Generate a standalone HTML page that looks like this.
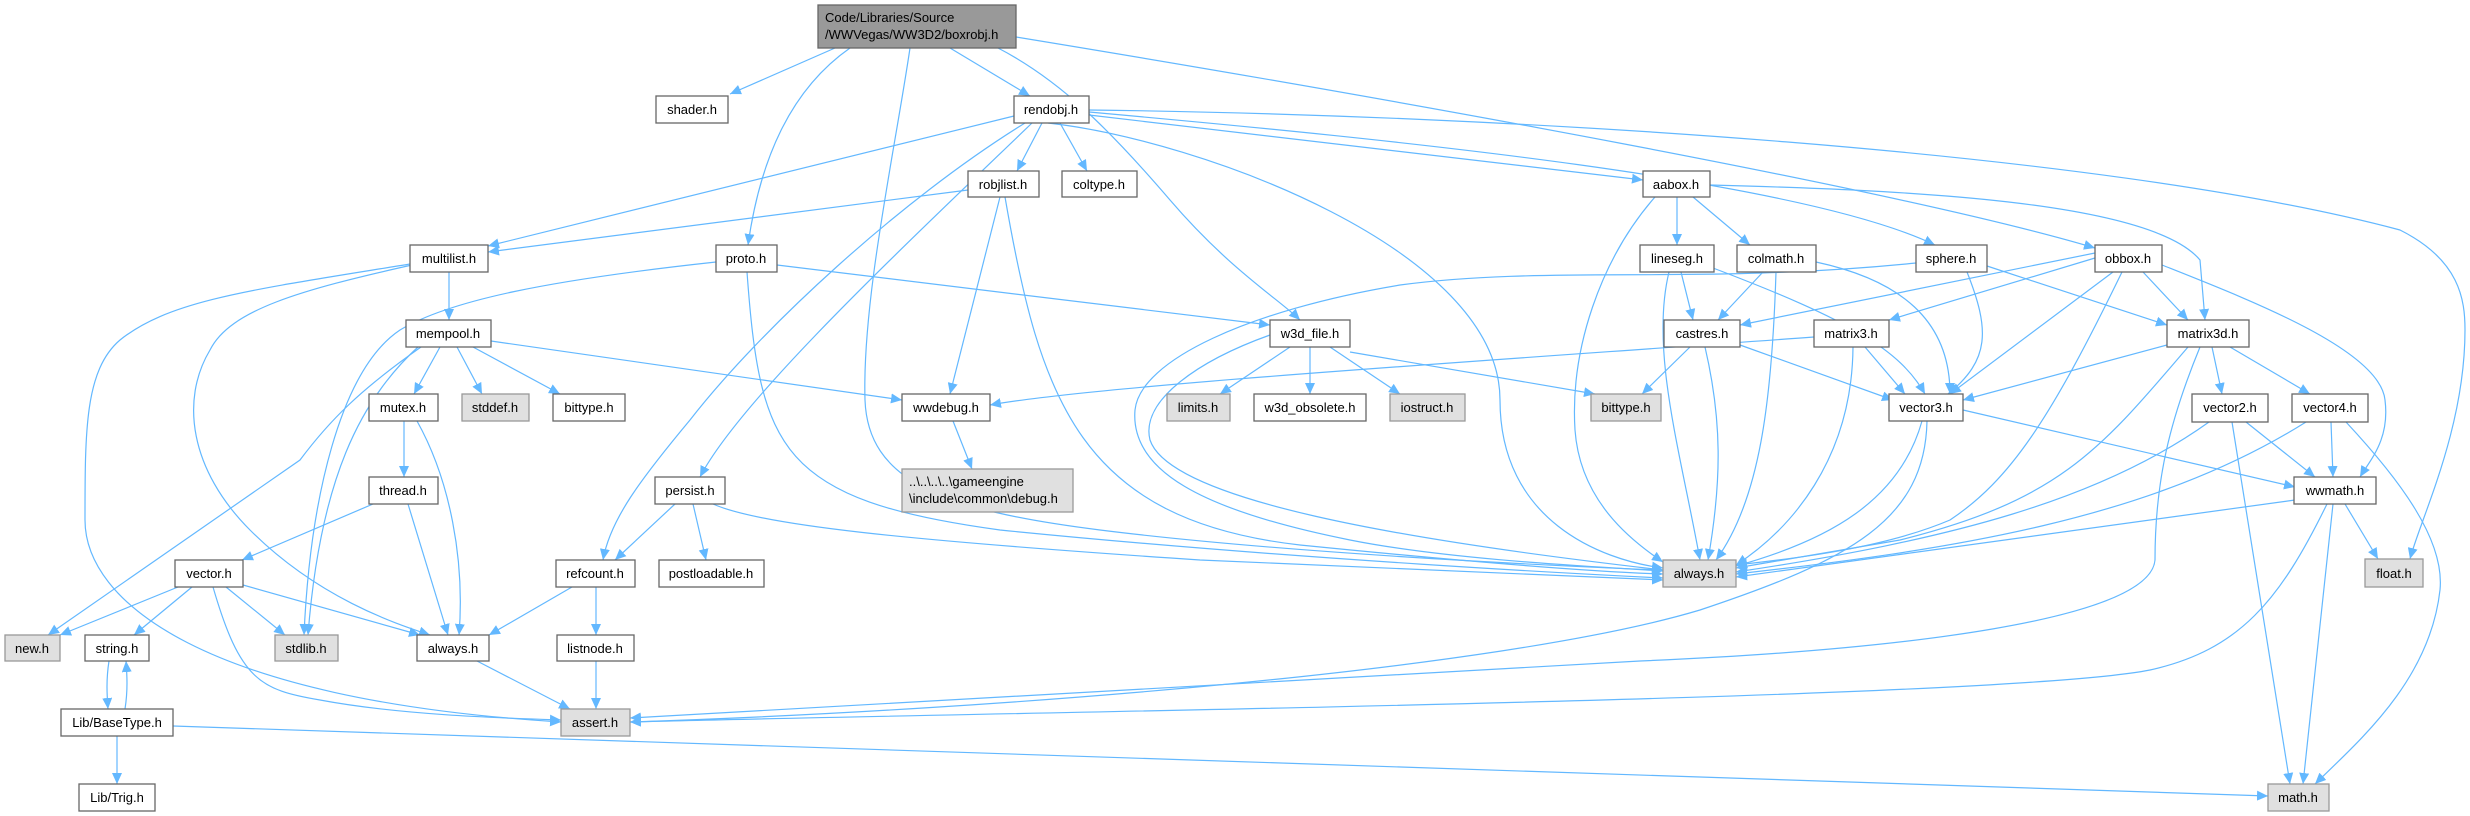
<!DOCTYPE html>
<html><head><meta charset="utf-8"><style>
html,body{margin:0;padding:0;background:#fff;}
svg{display:block;}
text{font-family:"Liberation Sans",Arial,sans-serif;font-size:13px;fill:#000;}
.n{fill:#fff;stroke:#666;stroke-width:1.3;}
.g{fill:#e0e0e0;stroke:#999;stroke-width:1.3;}
.r{fill:#999;stroke:#666;stroke-width:1.3;}
path.e{fill:none;stroke:#63b8ff;stroke-width:1.2;marker-end:url(#a);}
</style></head><body>
<svg width="2470" height="816" viewBox="0 0 2470 816" xmlns="http://www.w3.org/2000/svg">
<defs><marker id="a" markerUnits="userSpaceOnUse" markerWidth="12" markerHeight="10" refX="11" refY="5" orient="auto"><path d="M0,0 L11,5 L0,10 z" fill="#63b8ff"/></marker></defs>
<g>
<path class="e" d="M835,48 L730,94"/>
<path class="e" d="M850,48 C790,90 760,160 748,245"/>
<path class="e" d="M910,48 C895,150 862,300 865,400 C868,480 940,510 1100,530 C1300,555 1600,568 1663,570"/>
<path class="e" d="M950,48 L1030,96"/>
<path class="e" d="M998,48 C1060,80 1110,130 1170,200 C1230,270 1280,300 1300,320"/>
<path class="e" d="M1016,37 C1400,100 1900,190 2095,248"/>
<path class="e" d="M1014,116 L488,246"/>
<path class="e" d="M1025,123 C900,200 760,330 690,420 C640,480 610,520 603,560"/>
<path class="e" d="M1032,123 C900,250 740,400 700,477"/>
<path class="e" d="M1042,123 L1017,171"/>
<path class="e" d="M1060,123 L1087,171"/>
<path class="e" d="M1048,123 C1200,140 1500,250 1500,400 C1500,520 1600,560 1663,568"/>
<path class="e" d="M1089,115 L1643,180"/>
<path class="e" d="M1089,112 C1400,140 1800,180 1935,245"/>
<path class="e" d="M1089,110 C1500,115 2100,150 2400,230 C2460,260 2465,300 2465,330 C2465,430 2420,520 2410,559"/>
<path class="e" d="M968,190 L488,252"/>
<path class="e" d="M1000,197 L950,394"/>
<path class="e" d="M1005,197 C1040,400 1080,520 1300,545 C1500,565 1600,572 1663,574"/>
<path class="e" d="M449,272 L449,320"/>
<path class="e" d="M410,264 C250,290 170,300 120,340 C85,370 85,430 85,520 C85,600 200,700 561,722"/>
<path class="e" d="M412,265 C300,290 230,310 210,350 C180,400 190,470 250,530 C320,600 400,625 430,635"/>
<path class="e" d="M716,262 C550,280 450,300 400,330 C340,370 310,500 304,635"/>
<path class="e" d="M777,265 L1270,325"/>
<path class="e" d="M747,272 C760,450 780,500 1000,530 C1300,560 1600,575 1663,578"/>
<path class="e" d="M491,341 L902,400"/>
<path class="e" d="M440,347 L414,394"/>
<path class="e" d="M457,347 L482,394"/>
<path class="e" d="M473,347 L560,394"/>
<path class="e" d="M421,347 C360,390 330,420 300,460 L48,635"/>
<path class="e" d="M418,347 C360,400 320,480 308,635"/>
<path class="e" d="M404,421 L404,477"/>
<path class="e" d="M417,421 C450,480 465,560 459,635"/>
<path class="e" d="M373,504 L242,560"/>
<path class="e" d="M408,504 L448,635"/>
<path class="e" d="M178,587 L60,635"/>
<path class="e" d="M192,587 L134,635"/>
<path class="e" d="M226,587 L285,635"/>
<path class="e" d="M243,585 L420,635"/>
<path class="e" d="M213,587 C240,680 260,690 320,700 C400,715 500,718 561,720"/>
<path class="e" d="M109,661 C106,680 107,695 108,709"/>
<path class="e" d="M125,709 C128,690 127,675 126,661"/>
<path class="e" d="M117,736 L117,784"/>
<path class="e" d="M173,726 L2268,796"/>
<path class="e" d="M477,661 L570,709"/>
<path class="e" d="M572,587 L489,635"/>
<path class="e" d="M596,587 L596,635"/>
<path class="e" d="M596,661 L596,709"/>
<path class="e" d="M675,504 L615,560"/>
<path class="e" d="M693,504 L706,560"/>
<path class="e" d="M713,504 C760,525 900,540 1200,560 L1663,580"/>
<path class="e" d="M1290,347 L1220,394"/>
<path class="e" d="M1310,347 L1310,394"/>
<path class="e" d="M1330,347 L1400,394"/>
<path class="e" d="M1350,352 L1595,394"/>
<path class="e" d="M1270,335 C1200,360 1140,400 1150,440 C1170,500 1400,540 1663,570"/>
<path class="e" d="M1916,263 C1700,285 1550,265 1400,285 C1250,310 1140,360 1135,410 C1130,470 1200,510 1350,540 C1450,560 1600,567 1663,571"/>
<path class="e" d="M1677,197 L1677,245"/>
<path class="e" d="M1693,197 L1750,245"/>
<path class="e" d="M1710,185 C1900,190 2150,200 2200,260 L2205,320"/>
<path class="e" d="M1655,197 C1600,260 1570,350 1575,430 C1580,500 1630,540 1663,562"/>
<path class="e" d="M1681,272 L1693,320"/>
<path class="e" d="M1713,268 C1850,320 1900,350 1925,394"/>
<path class="e" d="M1669,272 C1650,350 1680,450 1700,560"/>
<path class="e" d="M1763,272 L1718,320"/>
<path class="e" d="M1816,262 C1900,280 1950,320 1950,394"/>
<path class="e" d="M1776,272 C1772,400 1760,500 1716,560"/>
<path class="e" d="M1967,272 C1990,330 1990,360 1948,394"/>
<path class="e" d="M1987,266 L2167,325"/>
<path class="e" d="M2095,253 L1740,325"/>
<path class="e" d="M2095,258 L1889,320"/>
<path class="e" d="M2113,272 L1950,394"/>
<path class="e" d="M2143,272 L2188,320"/>
<path class="e" d="M2122,272 C2050,420 2010,480 1950,520 C1880,550 1780,560 1736,565"/>
<path class="e" d="M2162,265 C2250,300 2380,350 2385,400 C2390,440 2370,460 2360,477"/>
<path class="e" d="M1690,347 L1642,394"/>
<path class="e" d="M1740,345 L1893,400"/>
<path class="e" d="M1705,347 C1722,420 1722,480 1708,560"/>
<path class="e" d="M1814,337 C1500,360 1100,385 990,405"/>
<path class="e" d="M1865,347 L1905,394"/>
<path class="e" d="M1853,347 C1852,460 1790,530 1736,565"/>
<path class="e" d="M2167,345 L1963,400"/>
<path class="e" d="M2212,347 L2222,394"/>
<path class="e" d="M2230,347 L2310,394"/>
<path class="e" d="M2188,347 C2100,450 2060,500 1900,540 L1736,568"/>
<path class="e" d="M2200,347 C2170,420 2155,480 2155,560 C2150,620 1900,650 1640,661 L630,718"/>
<path class="e" d="M1963,410 L2295,487"/>
<path class="e" d="M1922,421 C1900,500 1830,540 1736,566"/>
<path class="e" d="M1927,421 C1925,520 1850,560 1700,610 C1500,670 1000,710 630,722"/>
<path class="e" d="M2246,422 L2315,477"/>
<path class="e" d="M2209,422 C2100,500 1950,540 1736,572"/>
<path class="e" d="M2232,422 L2290,784"/>
<path class="e" d="M2331,422 L2333,477"/>
<path class="e" d="M2306,422 C2150,520 1950,550 1736,574"/>
<path class="e" d="M2346,422 C2400,480 2445,540 2440,590 C2430,680 2360,740 2315,784"/>
<path class="e" d="M2295,500 L1736,577"/>
<path class="e" d="M2345,504 L2378,559"/>
<path class="e" d="M2333,504 L2303,784"/>
<path class="e" d="M2327,504 C2280,600 2240,650 2150,670 C2000,700 1000,712 630,722"/>
<path class="e" d="M953,421 L972,469"/>
</g>
<g>
<rect class="r" x="818" y="5" width="198" height="43"/>
<text x="825" y="22">Code/Libraries/Source</text>
<text x="825" y="39">/WWVegas/WW3D2/boxrobj.h</text>
<rect class="n" x="656" y="96" width="72" height="27"/><text x="692" y="114" text-anchor="middle">shader.h</text>
<rect class="n" x="1014" y="96" width="75" height="27"/><text x="1051" y="114" text-anchor="middle">rendobj.h</text>
<rect class="n" x="410" y="245" width="78" height="27"/><text x="449" y="263" text-anchor="middle">multilist.h</text>
<rect class="n" x="716" y="245" width="61" height="27"/><text x="746" y="263" text-anchor="middle">proto.h</text>
<rect class="n" x="968" y="171" width="71" height="26"/><text x="1003" y="189" text-anchor="middle">robjlist.h</text>
<rect class="n" x="1062" y="171" width="75" height="26"/><text x="1099" y="189" text-anchor="middle">coltype.h</text>
<rect class="n" x="1643" y="171" width="67" height="26"/><text x="1676" y="189" text-anchor="middle">aabox.h</text>
<rect class="n" x="1640" y="245" width="74" height="27"/><text x="1677" y="263" text-anchor="middle">lineseg.h</text>
<rect class="n" x="1737" y="245" width="79" height="27"/><text x="1776" y="263" text-anchor="middle">colmath.h</text>
<rect class="n" x="1916" y="245" width="71" height="27"/><text x="1951" y="263" text-anchor="middle">sphere.h</text>
<rect class="n" x="2095" y="245" width="67" height="27"/><text x="2128" y="263" text-anchor="middle">obbox.h</text>
<rect class="n" x="406" y="320" width="85" height="27"/><text x="448" y="338" text-anchor="middle">mempool.h</text>
<rect class="n" x="1270" y="320" width="80" height="27"/><text x="1310" y="338" text-anchor="middle">w3d_file.h</text>
<rect class="n" x="1664" y="320" width="76" height="27"/><text x="1702" y="338" text-anchor="middle">castres.h</text>
<rect class="n" x="1814" y="320" width="75" height="27"/><text x="1851" y="338" text-anchor="middle">matrix3.h</text>
<rect class="n" x="2167" y="320" width="82" height="27"/><text x="2208" y="338" text-anchor="middle">matrix3d.h</text>
<rect class="n" x="369" y="394" width="69" height="27"/><text x="403" y="412" text-anchor="middle">mutex.h</text>
<rect class="g" x="462" y="394" width="67" height="27"/><text x="495" y="412" text-anchor="middle">stddef.h</text>
<rect class="n" x="553" y="394" width="72" height="27"/><text x="589" y="412" text-anchor="middle">bittype.h</text>
<rect class="n" x="902" y="394" width="88" height="27"/><text x="946" y="412" text-anchor="middle">wwdebug.h</text>
<rect class="g" x="1167" y="394" width="63" height="27"/><text x="1198" y="412" text-anchor="middle">limits.h</text>
<rect class="n" x="1254" y="394" width="112" height="27"/><text x="1310" y="412" text-anchor="middle">w3d_obsolete.h</text>
<rect class="g" x="1390" y="394" width="75" height="27"/><text x="1427" y="412" text-anchor="middle">iostruct.h</text>
<rect class="g" x="1591" y="394" width="70" height="27"/><text x="1626" y="412" text-anchor="middle">bittype.h</text>
<rect class="n" x="1889" y="394" width="74" height="27"/><text x="1926" y="412" text-anchor="middle">vector3.h</text>
<rect class="n" x="2192" y="394" width="76" height="28"/><text x="2230" y="412" text-anchor="middle">vector2.h</text>
<rect class="n" x="2292" y="394" width="76" height="28"/><text x="2330" y="412" text-anchor="middle">vector4.h</text>
<rect class="g" x="902" y="469" width="171" height="43"/>
<text x="909" y="486">..\..\..\..\gameengine</text>
<text x="909" y="503">\include\common\debug.h</text>
<rect class="n" x="369" y="477" width="69" height="27"/><text x="403" y="495" text-anchor="middle">thread.h</text>
<rect class="n" x="655" y="477" width="70" height="27"/><text x="690" y="495" text-anchor="middle">persist.h</text>
<rect class="n" x="2294" y="477" width="82" height="27"/><text x="2335" y="495" text-anchor="middle">wwmath.h</text>
<rect class="n" x="175" y="560" width="68" height="27"/><text x="209" y="578" text-anchor="middle">vector.h</text>
<rect class="n" x="556" y="560" width="79" height="27"/><text x="595" y="578" text-anchor="middle">refcount.h</text>
<rect class="n" x="659" y="560" width="105" height="27"/><text x="711" y="578" text-anchor="middle">postloadable.h</text>
<rect class="g" x="1663" y="560" width="73" height="27"/><text x="1699" y="578" text-anchor="middle">always.h</text>
<rect class="g" x="2365" y="559" width="58" height="28"/><text x="2394" y="578" text-anchor="middle">float.h</text>
<rect class="g" x="5" y="635" width="55" height="26"/><text x="32" y="653" text-anchor="middle">new.h</text>
<rect class="n" x="85" y="635" width="64" height="26"/><text x="117" y="653" text-anchor="middle">string.h</text>
<rect class="g" x="275" y="635" width="63" height="26"/><text x="306" y="653" text-anchor="middle">stdlib.h</text>
<rect class="n" x="417" y="635" width="72" height="26"/><text x="453" y="653" text-anchor="middle">always.h</text>
<rect class="n" x="557" y="635" width="77" height="26"/><text x="595" y="653" text-anchor="middle">listnode.h</text>
<rect class="n" x="61" y="709" width="112" height="27"/><text x="117" y="727" text-anchor="middle">Lib/BaseType.h</text>
<rect class="g" x="561" y="709" width="69" height="27"/><text x="595" y="727" text-anchor="middle">assert.h</text>
<rect class="n" x="79" y="784" width="76" height="27"/><text x="117" y="802" text-anchor="middle">Lib/Trig.h</text>
<rect class="g" x="2268" y="784" width="61" height="27"/><text x="2298" y="802" text-anchor="middle">math.h</text>
</g>
</svg>
</body></html>
